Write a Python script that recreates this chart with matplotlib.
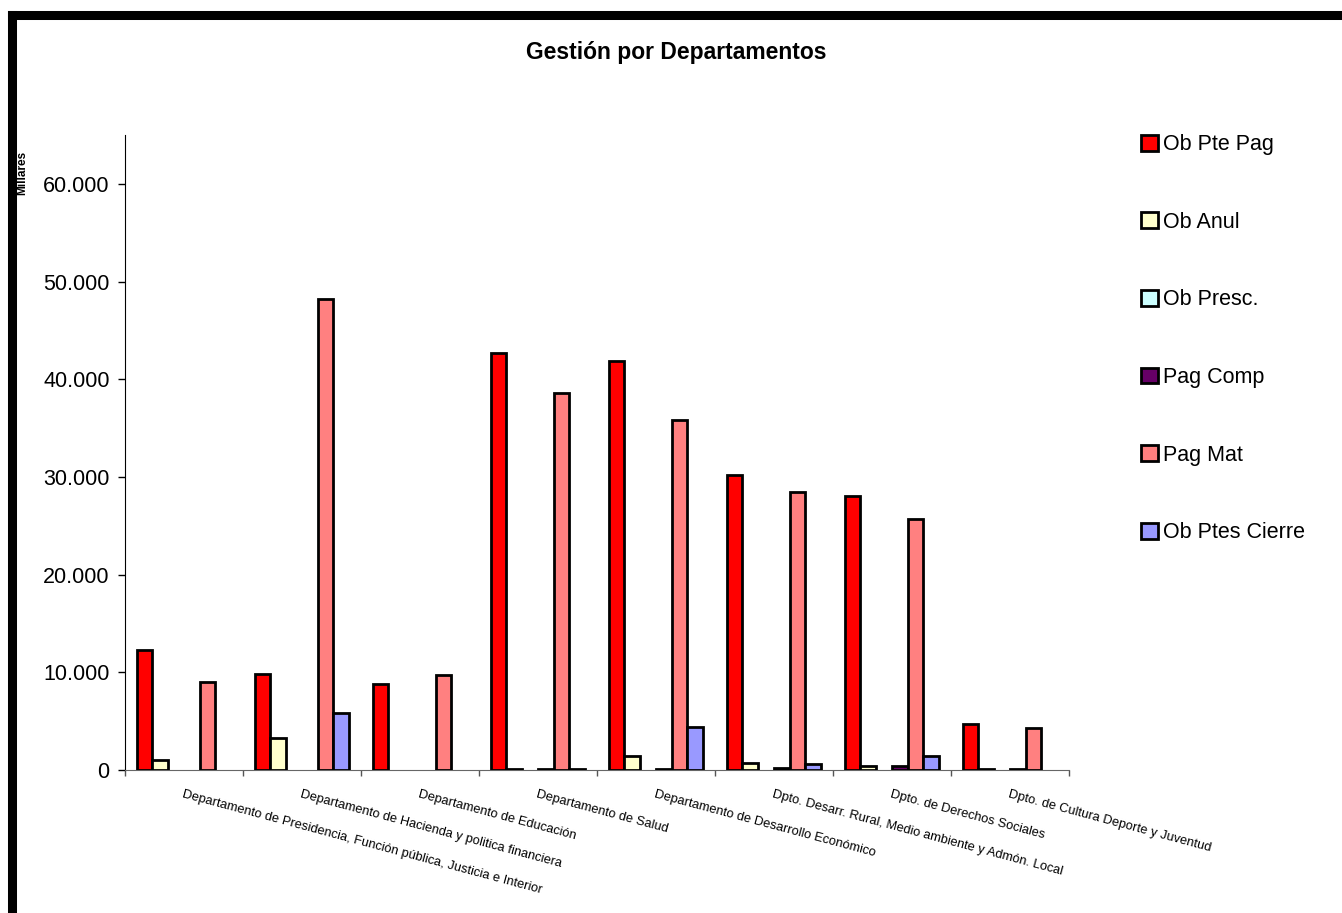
import numpy as np
import matplotlib
matplotlib.use('Agg')
import matplotlib.pyplot as plt
from matplotlib.patches import Patch
from matplotlib.lines import Line2D
from matplotlib.ticker import FuncFormatter

plt.rcParams['font.family'] = ['Liberation Sans', 'DejaVu Sans']

### Data (miles de euros) ###
departamentos = ['Departamento de Presidencia, Función pública, Justicia e Interior',
                 'Departamento de Hacienda y politica financiera',
                 'Departamento de Educación',
                 'Departamento de Salud',
                 'Departamento de Desarrollo Económico',
                 'Dpto. Desarr. Rural, Medio ambiente y Admón. Local',
                 'Dpto. de Derechos Sociales',
                 'Dpto. de Cultura Deporte y Juventud']

ob_pte_pag = [12250, 9850, 8800, 42700, 41850, 30250, 28050, 4750]
ob_anul = [980, 3280, 0, 60, 1400, 700, 400, 120]
ob_presc = [0, 0, 0, 0, 0, 0, 0, 0]
pag_comp = [0, 0, 0, 100, 60, 250, 450, 150]
pag_mat = [9050, 48250, 9750, 38600, 35850, 28500, 25700, 4350]
ob_ptes_cierre = [0, 5850, 0, 60, 4450, 650, 1450, 0]

series = [ob_pte_pag, ob_anul, ob_presc, pag_comp, pag_mat, ob_ptes_cierre]
nombres = ['Ob Pte Pag', 'Ob Anul', 'Ob Presc.', 'Pag Comp', 'Pag Mat', 'Ob Ptes Cierre']
colores = ['#FF0000', '#FFFFCC', '#CCFFFF', '#660066', '#FF8080', '#9999FF']

fig = plt.figure(figsize=(13.42, 9.13), dpi=100)
ax = fig.add_axes([0.0931, 0.1566, 0.7034, 0.6955])

x = np.arange(len(departamentos))
w = 1.0 / 7.5
for i in range(len(series)):
	vals = np.array(series[i], dtype=float)
	m = vals > 0
	ax.bar(x[m] + (i - 2.5) * w, vals[m], width=w, color=colores[i],
		edgecolor='black', linewidth=2.0, zorder=3)

ax.set_xlim(-0.5, len(departamentos) - 0.5)
ax.set_ylim(0, 65000)
ax.set_yticks(np.arange(0, 60001, 10000))
ax.yaxis.set_major_formatter(FuncFormatter(lambda v, p: '{:,}'.format(int(v)).replace(',', '.')))
ax.tick_params(axis='y', labelsize=15.5, length=5, width=1, pad=6, colors='black')

ax.set_xticks(x)
ax.set_xticklabels(departamentos, rotation=-15, ha='left', va='top',
	rotation_mode='anchor', fontsize=9.3)
ax.set_xticks(np.arange(len(departamentos) + 1) - 0.5, minor=True)
ax.tick_params(axis='x', which='major', length=0, pad=13)
ax.tick_params(axis='x', which='minor', length=4, width=1, color='#555555')

ax.spines['top'].set_visible(False)
ax.spines['right'].set_visible(False)
ax.spines['left'].set_color('black')
ax.spines['bottom'].set_color('#666666')

fig.text(0.5037, 0.942, 'Gestión por Departamentos', ha='center', va='center',
	fontsize=16.5, fontweight='bold')
fig.text(0.0165, 0.811, 'Millares', rotation=90, ha='center', va='center',
	fontsize=8.5, fontweight='bold')

### Legend ###
handles = [Patch(facecolor=c, edgecolor='black', linewidth=2.0) for c in colores]
fig.legend(handles, nombres, loc='upper left', bbox_to_anchor=(0.8505, 0.853),
	frameon=False, fontsize=15.5, handlelength=0.75, handleheight=0.75,
	handletextpad=0.25, labelspacing=2.63, borderaxespad=0, borderpad=0)

### Thick chart frame (top and left) ###
fig.add_artist(Line2D([0.009, 0.009], [0.0, 0.984], transform=fig.transFigure,
	color='black', linewidth=6.5, solid_capstyle='projecting'))
fig.add_artist(Line2D([0.009, 1.0], [0.984, 0.984], transform=fig.transFigure,
	color='black', linewidth=6.5, solid_capstyle='projecting'))

fig.savefig('out.png', dpi=100)
